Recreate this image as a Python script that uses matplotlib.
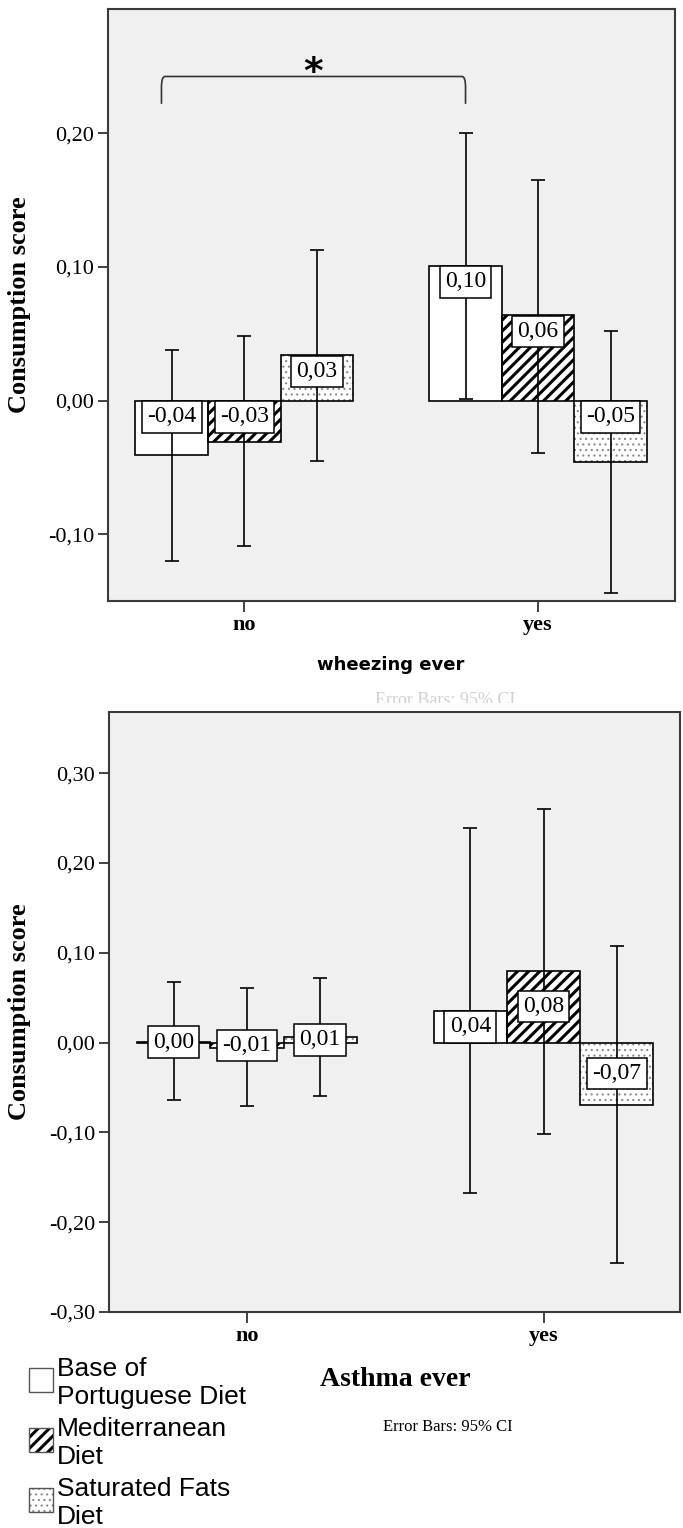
import matplotlib.pyplot as plt
from matplotlib.patches import Rectangle, PathPatch
from matplotlib.path import Path

plt.rcParams["font.family"] = "Liberation Serif"

groups = ["no", "yes"]
diets = ["Base of\nPortuguese Diet", "Mediterranean\nDiet", "Saturated Fats\nDiet"]

# wheezing ever: one row per diet, columns [no, yes]
wheeze_mean = [[-0.041, 0.101], [-0.031, 0.064], [0.034, -0.046]]
wheeze_low = [[-0.120, 0.001], [-0.109, -0.039], [-0.045, -0.144]]
wheeze_high = [[0.038, 0.200], [0.048, 0.165], [0.113, 0.052]]
wheeze_text = [["-0,04", "0,10"], ["-0,03", "0,06"], ["0,03", "-0,05"]]
wheeze_ticks = [-0.10, 0.00, 0.10, 0.20]

# asthma ever
asthma_mean = [[0.001, 0.035], [-0.006, 0.080], [0.006, -0.069]]
asthma_low = [[-0.064, -0.168], [-0.071, -0.102], [-0.060, -0.246]]
asthma_high = [[0.067, 0.239], [0.061, 0.260], [0.072, 0.108]]
asthma_text = [["0,00", "0,04"], ["-0,01", "0,08"], ["0,01", "-0,07"]]
asthma_ticks = [-0.30, -0.20, -0.10, 0.00, 0.10, 0.20, 0.30]

W, H = 683, 1528
fig = plt.figure(figsize=(W / 100, H / 100), dpi=100)


def fx(px):
    return px / W


def fy(py):
    return 1 - py / H


# face, hatch, hatch colour, hatch width
styles = [("white", None, "black", 1.0),
          ("white", "///", "black", 2.2),
          ("white", "...", "#8a8a8a", 0.8)]
width = 0.247
offsets = [-width, 0, width]
box = dict(boxstyle="square,pad=0.22", fc="white", ec="black", lw=1.1)


def hatched(patch, st):
    patch.set_facecolor(st[0])
    if st[1]:
        patch.set_hatch(st[1])
        patch.set_edgecolor(st[2])
        try:
            patch.set_hatch_linewidth(st[3])
        except AttributeError:
            pass


def draw_panel(ax, mean, low, high, text, ticks, ylim, xlim, label_mode):
    ax.set_facecolor("#f0f0f0")
    for i in range(3):
        xs = [g + offsets[i] for g in range(len(groups))]
        bars = ax.bar(xs, mean[i], width, linewidth=0, zorder=2)
        for b in bars:
            hatched(b, styles[i])
        ax.bar(xs, mean[i], width, fill=False, edgecolor="black",
               linewidth=1.2, zorder=2.5)
        yerr = [[m - lo for m, lo in zip(mean[i], low[i])],
                [hi - m for m, hi in zip(mean[i], high[i])]]
        ax.errorbar(xs, mean[i], yerr=yerr, fmt="none", ecolor="black",
                    elinewidth=1.2, capsize=5, capthick=1.2, zorder=3)
        for x, m, t in zip(xs, mean[i], text[i]):
            if label_mode == "top":
                ax.annotate(t, xy=(x, max(m, 0)), xytext=(0, -4.2),
                            textcoords="offset points", ha="center", va="top",
                            fontsize=17, zorder=5, bbox=box)
            else:
                ax.annotate(t, xy=(x, m / 2), ha="center", va="center",
                            fontsize=17, zorder=5, bbox=box)
    ax.set_xlim(*xlim)
    ax.set_ylim(*ylim)
    ax.set_xticks(range(len(groups)))
    ax.set_xticklabels(groups, fontsize=16, fontweight="bold")
    ax.set_yticks(ticks)
    ax.set_yticklabels([f"{t:.2f}".replace(".", ",") for t in ticks], fontsize=16)
    ax.tick_params(axis="x", length=8, width=1.3, pad=2, color="#333333")
    ax.tick_params(axis="y", length=7, width=1.3, pad=3, color="#333333")
    for s in ax.spines.values():
        s.set_color("#3a3a3a")
        s.set_linewidth(1.5)
    ax.set_ylabel("Consumption score", fontsize=19, fontweight="bold")


# top panel
ax1 = fig.add_axes([fx(108), fy(601), (675 - 108) / W, (601 - 9) / H])
draw_panel(ax1, wheeze_mean, wheeze_low, wheeze_high, wheeze_text,
           wheeze_ticks, (-0.15, 0.293), (-0.464, 1.466), "top")
ax1.yaxis.set_label_coords(-0.135, 0.5)

# significance bracket between base diet bars
x1 = offsets[0] - 0.035
x2 = 1 + offsets[0]
yt, yl, r, rx = 0.2425, 0.222, 0.008, 0.012
verts = [(x1, yl), (x1, yt - r), (x1, yt), (x1 + rx, yt), (x2 - rx, yt),
         (x2, yt), (x2, yt - r), (x2, yl)]
codes = [Path.MOVETO, Path.LINETO, Path.CURVE3, Path.CURVE3, Path.LINETO,
         Path.CURVE3, Path.CURVE3, Path.LINETO]
ax1.add_patch(PathPatch(Path(verts, codes), fill=False, edgecolor="#333333",
                        linewidth=1.2, zorder=4))
ax1.text((x1 + x2) / 2, 0.245, "*", fontsize=27, fontweight="bold",
         family="DejaVu Sans", ha="center", va="center", zorder=4)

fig.text(fx(391), fy(665), "wheezing ever", family="DejaVu Sans",
         fontweight="bold", fontsize=13, ha="center", va="center")

# faint cut-off caption between the panels
fig.text(fx(445), fy(692), "Error Bars: 95% CI", fontsize=13, color="#d0d0d0",
         ha="center", va="top")
fig.add_artist(Rectangle((0, fy(711)), 1, (711 - 703) / H,
                         transform=fig.transFigure, facecolor="white",
                         edgecolor="none", zorder=10))

# bottom panel
ax2 = fig.add_axes([fx(109), fy(1312), (680 - 109) / W, (1312 - 712) / H])
draw_panel(ax2, asthma_mean, asthma_low, asthma_high, asthma_text,
           asthma_ticks, (-0.30, 0.368), (-0.465, 1.46), "mid")
ax2.yaxis.set_label_coords(-0.136, 0.5)

fig.text(fx(395), fy(1379), "Asthma ever", fontweight="bold", fontsize=20,
         ha="center", va="center")
fig.text(fx(448), fy(1427), "Error Bars: 95% CI", fontsize=12,
         ha="center", va="center")

# legend
for i, lab in enumerate(diets):
    top = 1368 + i * 60
    patch = Rectangle((fx(29), fy(top + 24)), 24 / W, 24 / H,
                      transform=fig.transFigure, linewidth=0)
    hatched(patch, styles[i])
    fig.add_artist(patch)
    fig.add_artist(Rectangle((fx(29), fy(top + 24)), 24 / W, 24 / H,
                             transform=fig.transFigure, fill=False,
                             edgecolor="#555555", linewidth=1.0))
    fig.text(fx(57), fy(top + 15), lab, family="Liberation Sans",
             fontsize=19, linespacing=1.25, ha="left", va="center")

fig.savefig("out.png", dpi=100)
